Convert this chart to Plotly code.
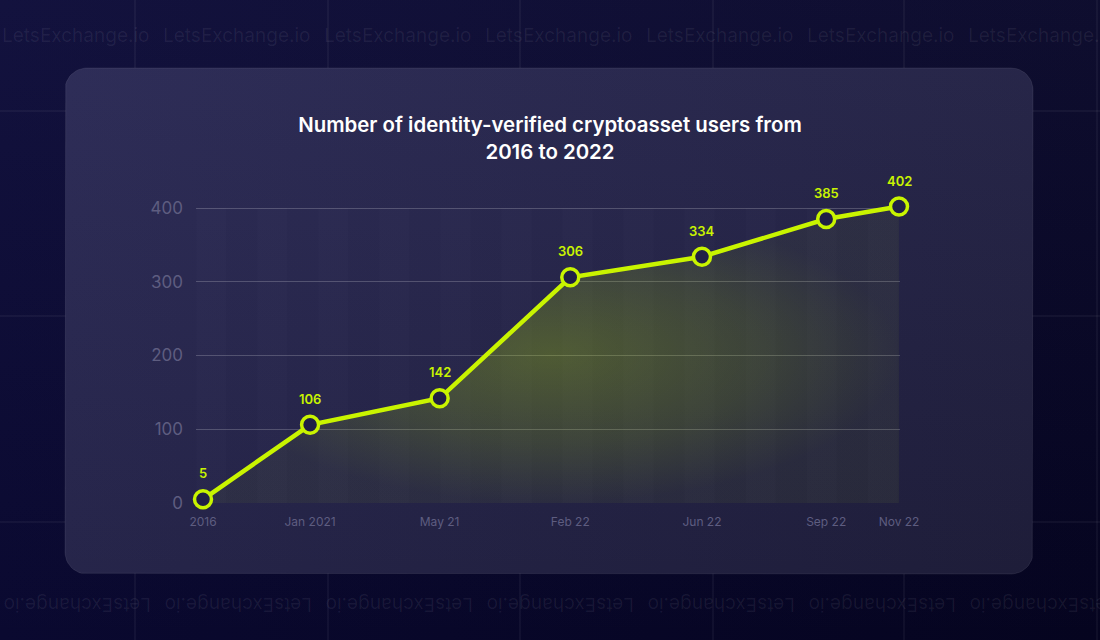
import math
import plotly.graph_objects as go

W, H = 1100, 640

# ---------------- data ----------------
categories = ["2016", "Jan 2021", "May 21", "Feb 22", "Jun 22", "Sep 22", "Nov 22"]
x_index = [0, 1, 2.21, 3.43, 4.66, 5.82, 6.5]          # uneven spacing as in the source chart
users = [5, 106, 142, 306, 334, 385, 402]
y_ticks = [0, 100, 200, 300, 400]
title_text = "Number of identity-verified cryptoasset users from<br>2016 to 2022"
watermark = "LetsExchange.io"

# ---------------- style ----------------
LIME = "#c9f400"
FONT = "Inter"
TICK_COLOR = "#5e5d80"

# pixel anchors of the plot: x=0 -> 203px, x=6.5 -> 899px ; y=0 -> 503px, y=400 -> 208px
X0_PX, X1_PX = 203, 899
Y0_PX, Y400_PX = 503, 208
X_RANGE = [-0.065, 6.51]
Y_RANGE = [-0.6, 412]
ppx = (X1_PX - X0_PX) / 6.5
ppy = (Y0_PX - Y400_PX) / 400.0
dom_l = X0_PX + X_RANGE[0] * ppx
dom_r = X0_PX + X_RANGE[1] * ppx
dom_b = Y0_PX - Y_RANGE[0] * ppy
dom_t = Y0_PX - Y_RANGE[1] * ppy

fig = go.Figure()


def fy(py):
    """pixel y (top-down) -> background axis y (bottom-up)"""
    return H - py


def rounded_rect(x0, y0, x1, y1, r, n=12):
    xs, ys = [], []
    corners = [(x1 - r, y0 + r, -90, 0), (x1 - r, y1 - r, 0, 90),
               (x0 + r, y1 - r, 90, 180), (x0 + r, y0 + r, 180, 270)]
    for cx, cy, a0, a1 in corners:
        for i in range(n + 1):
            a = math.radians(a0 + (a1 - a0) * i / n)
            xs.append(cx + r * math.cos(a))
            ys.append(fy(cy + r * math.sin(a)))
    xs.append(xs[0])
    ys.append(ys[0])
    return xs, ys


# ---------------- background (subplot x/y covering the whole figure) ----------------
page_x = [0, W, W, 0, 0]
page_y = [0, 0, H, H, 0]
fig.add_trace(go.Scatter(
    x=page_x, y=page_y, xaxis="x", yaxis="y", mode="lines", line=dict(width=0),
    fill="toself", fillgradient=dict(type="horizontal", start=0, stop=W,
                                     colorscale=[[0, "#0a0930"], [1, "#05041f"]]),
    hoverinfo="skip", showlegend=False))
fig.add_trace(go.Scatter(
    x=page_x, y=page_y, xaxis="x", yaxis="y", mode="lines", line=dict(width=0),
    fill="toself", fillgradient=dict(type="vertical", start=0, stop=H,
                                     colorscale=[[0, "rgba(100,100,190,0)"], [1, "rgba(100,100,190,0.10)"]]),
    hoverinfo="skip", showlegend=False))

# decorative background grid
gx, gy = [], []
for vx in [135, 328, 520, 713, 904, 1097]:
    gx += [vx, vx, None]
    gy += [0, H, None]
for hy in [111, 316, 522]:
    gx += [0, W, None]
    gy += [fy(hy), fy(hy), None]
fig.add_trace(go.Scatter(x=gx, y=gy, xaxis="x", yaxis="y", mode="lines",
                         line=dict(color="rgba(255,255,255,0.045)", width=2),
                         hoverinfo="skip", showlegend=False))

# card
cx, cy = rounded_rect(65, 68, 1033, 574, 22)
fig.add_trace(go.Scatter(
    x=cx, y=cy, xaxis="x", yaxis="y", mode="lines", line=dict(width=0),
    fill="toself", fillgradient=dict(type="horizontal", start=65, stop=1033,
                                     colorscale=[[0, "#26254a"], [1, "#1e1d39"]]),
    hoverinfo="skip", showlegend=False))
fig.add_trace(go.Scatter(
    x=cx, y=cy, xaxis="x", yaxis="y", mode="lines",
    line=dict(color="rgba(255,255,255,0.08)", width=1),
    fill="toself", fillgradient=dict(type="vertical", start=fy(574), stop=fy(68),
                                     colorscale=[[0, "rgba(130,130,230,0)"], [1, "rgba(130,130,230,0.09)"]]),
    hoverinfo="skip", showlegend=False))

# ---------------- main series (subplot x2/y2) ----------------
fig.add_trace(go.Scatter(
    x=x_index, y=users, xaxis="x2", yaxis="y2",
    mode="lines+markers",
    line=dict(color=LIME, width=4.5),
    marker=dict(size=17, color="#201f46", line=dict(color=LIME, width=3.5)),
    fill="tozeroy",
    fillgradient=dict(type="radial",
                      colorscale=[[0, "rgba(185,230,0,0.28)"], [0.6, "rgba(185,230,0,0.16)"],
                                  [1, "rgba(185,230,0,0.05)"]]),
    cliponaxis=False, hoverinfo="skip", showlegend=False))

shapes = []
# faint vertical stripes in plot area
stripe_w = 0.285
k = 0
x = X_RANGE[0]
while x < 6.5 - 1e-6:
    x_end = min(x + stripe_w, 6.5)
    if k % 2 == 0:
        shapes.append(dict(type="rect", xref="x2", yref="y2", x0=x, x1=x_end, y0=0, y1=400,
                           fillcolor="rgba(255,255,255,0.012)", line=dict(width=0), layer="below"))
    x = x_end
    k += 1

annotations = []
for xi, v in zip(x_index, users):
    annotations.append(dict(x=xi, y=v, xref="x2", yref="y2", text=str(v), showarrow=False,
                            yshift=26, font=dict(family=FONT, size=13, color=LIME, weight=600)))

for i in range(7):
    annotations.append(dict(x=(75 + 161 * i) / W, y=1 - 35 / H, xref="paper", yref="paper",
                            text=watermark, showarrow=False, xanchor="center", yanchor="middle",
                            font=dict(family=FONT, size=19, color="rgba(255,255,255,0.065)")))
    annotations.append(dict(x=(78 + 161 * i) / W, y=1 - 605 / H, xref="paper", yref="paper",
                            text=watermark, textangle=180,
                            showarrow=False, xanchor="center", yanchor="middle",
                            font=dict(family=FONT, size=19, color="rgba(255,255,255,0.065)")))

fig.update_layout(
    template="none",
    width=W, height=H, autosize=False,
    margin=dict(l=0, r=0, t=0, b=0, pad=0, autoexpand=False),
    paper_bgcolor="#08072a",
    plot_bgcolor="rgba(0,0,0,0)",
    hovermode=False,
    showlegend=False,
    title=dict(text=title_text, x=0.5, xref="container", xanchor="center",
               y=1 - 132 / H, yref="container", yanchor="top",
               font=dict(family=FONT, size=20.4, color="#ffffff", weight=600)),
    xaxis=dict(domain=[0, 1], range=[0, W], visible=False, fixedrange=True, automargin=False),
    yaxis=dict(domain=[0, 1], range=[0, H], visible=False, fixedrange=True, automargin=False),
    xaxis2=dict(domain=[dom_l / W, dom_r / W], range=X_RANGE, anchor="y2", automargin=False,
                tickmode="array", tickvals=x_index, ticktext=categories,
                showgrid=False, zeroline=False, showline=False, ticks="",
                ticklabelstandoff=10,
                tickfont=dict(family=FONT, size=12, color=TICK_COLOR), fixedrange=True),
    yaxis2=dict(domain=[(H - dom_b) / H, (H - dom_t) / H], range=Y_RANGE, anchor="x2", automargin=False,
                tickmode="array", tickvals=y_ticks,
                showgrid=True, gridcolor="rgba(255,255,255,0.2)", gridwidth=1,
                zeroline=False, showline=False, ticks="",
                ticklabelstandoff=12,
                tickfont=dict(family=FONT, size=17, color=TICK_COLOR), fixedrange=True),
    shapes=shapes,
    annotations=annotations,
)

fig.write_html(
    "out.html",
    config={"displayModeBar": False, "responsive": False},
    post_script="document.body.style.margin='0';document.body.style.overflow='hidden';",
)
